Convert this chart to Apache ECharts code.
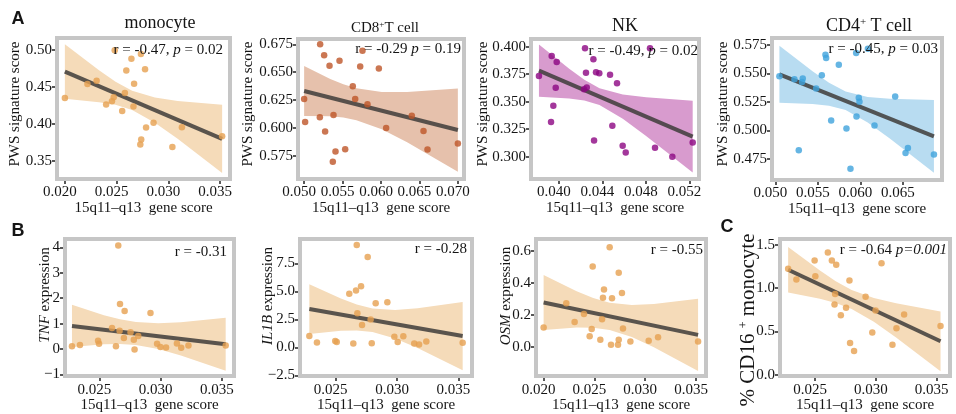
<!DOCTYPE html>
<html><head><meta charset="utf-8">
<script src="https://cdn.jsdelivr.net/npm/echarts@6/dist/echarts.min.js"></script>
<style>html,body{margin:0;padding:0;background:#fff}#chart{width:956px;height:414px}</style>
</head><body><div id="chart"></div><script>
// ---------- Panel A: monocyte ----------
const monoX = [0.02000,0.02218,0.02307,0.02399,0.02455,0.02472,0.02482,0.02554,0.02580,0.02594,0.02643,0.02663,0.02669,0.02729,0.02735,0.02738,0.02775,0.02785,0.02857,0.03039,0.03131,0.03520];
const monoY = [0.4351,0.4539,0.4584,0.4261,0.4306,0.4360,0.5000,0.4172,0.4418,0.4722,0.4884,0.4234,0.4543,0.3719,0.4946,0.3786,0.4740,0.3948,0.4015,0.3683,0.3952,0.3831];
const monoFitX = [0.0200,0.0352];
const monoFitY = [0.4709,0.3794];
const monoBandX = [0.0200,0.0233,0.0249,0.0265,0.0287,0.0309,0.0352];
const monoBandLo = [0.4339,0.4293,0.4258,0.4188,0.4014,0.3795,0.3330];
const monoBandHi = [0.5079,0.4727,0.4570,0.4448,0.4356,0.4311,0.4258];
const monoXLim = [0.01924,0.03596];
const monoYLim = [0.3250,0.5165];
const monoXTicks = [0.020,0.025,0.030,0.035];
const monoYTicks = [0.35,0.40,0.45,0.50];

// ---------- Panel A: CD8+ T cell ----------
const cd8X = [0.05000,0.05013,0.05208,0.05204,0.05260,0.05273,0.05330,0.05382,0.05373,0.05408,0.05460,0.05534,0.05633,0.05664,0.05729,0.05759,0.05824,0.05972,0.06067,0.06401,0.06553,0.06605,0.07000];
const cd8Y = [0.6259,0.6052,0.6750,0.6094,0.6651,0.5966,0.6558,0.6115,0.5696,0.5786,0.6603,0.5807,0.6373,0.6259,0.6552,0.6693,0.6211,0.6534,0.5999,0.6109,0.5972,0.5804,0.5858];
const cd8FitX = [0.0500,0.0700];
const cd8FitY = [0.6331,0.5980];
const cd8BandX = [0.0500,0.0534,0.0551,0.0568,0.0601,0.0634,0.0700];
const cd8BandLo = [0.6106,0.6103,0.6092,0.6068,0.5986,0.5871,0.5606];
const cd8BandHi = [0.6556,0.6439,0.6392,0.6356,0.6322,0.6321,0.6354];
const cd8XLim = [0.0492,0.0708];
const cd8YLim = [0.5540,0.6798];
const cd8XTicks = [0.050,0.055,0.060,0.065,0.070];
const cd8YTicks = [0.575,0.600,0.625,0.650,0.675];

// ---------- Panel A: NK ----------
const nkX = [0.03818,0.03935,0.03981,0.03972,0.03950,0.03929,0.04241,0.04250,0.04257,0.04232,0.04324,0.04318,0.04342,0.04372,0.04471,0.04492,0.04535,0.04587,0.04615,0.04838,0.04884,0.05043,0.05230];
const nkY = [0.3733,0.3915,0.3861,0.3627,0.3464,0.3315,0.3985,0.3764,0.3630,0.3612,0.3146,0.3885,0.3767,0.3758,0.3745,0.3282,0.3667,0.3100,0.3039,0.3985,0.3082,0.3000,0.3130];
const nkFitX = [0.03818,0.05230];
const nkFitY = [0.3782,0.3182];
const nkBandX = [0.03818,0.04096,0.04235,0.04374,0.04588,0.04802,0.05230];
const nkBandLo = [0.3544,0.3528,0.3511,0.3470,0.3345,0.3188,0.2855];
const nkBandHi = [0.4020,0.3800,0.3699,0.3622,0.3565,0.3540,0.3509];
const nkXLim = [0.03745,0.05288];
const nkYLim = [0.2797,0.4070];
const nkXTicks = [0.040,0.044,0.048,0.052];
const nkYTicks = [0.300,0.325,0.350,0.375,0.400];

// ---------- Panel A: CD4+ T cell ----------
const cd4X = [0.05047,0.05224,0.05314,0.05322,0.05275,0.05479,0.05546,0.05589,0.05597,0.05656,0.05746,0.05836,0.05883,0.05950,0.05954,0.05981,0.05989,0.06088,0.06166,0.06409,0.06531,0.06559,0.06865];
const cd4Y = [0.5475,0.5449,0.5425,0.5454,0.4825,0.5367,0.5483,0.5663,0.5634,0.5086,0.5576,0.5017,0.4663,0.5678,0.5121,0.5286,0.5251,0.5715,0.5043,0.5298,0.4802,0.4846,0.4788];
const cd4FitX = [0.05047,0.06865];
const cd4FitY = [0.5492,0.4947];
const cd4BandX = [0.05047,0.05437,0.05631,0.05826,0.06086,0.06346,0.06865];
const cd4BandLo = [0.5243,0.5232,0.5217,0.5178,0.5069,0.4929,0.4628];
const cd4BandHi = [0.5742,0.5518,0.5417,0.5340,0.5293,0.5277,0.5266];
const cd4XLim = [0.04960,0.06960];
const cd4YLim = [0.4565,0.5810];
const cd4XTicks = [0.050,0.055,0.060,0.065];
const cd4YTicks = [0.475,0.500,0.525,0.550,0.575];

// ---------- Panel B: TNF ----------
const tnfX = [0.02277,0.02342,0.02490,0.02498,0.02604,0.02636,0.02655,0.02666,0.02669,0.02701,0.02707,0.02755,0.02782,0.02788,0.02818,0.02918,0.02972,0.02999,0.03045,0.03134,0.03169,0.03228,0.03532];
const tnfY = [0.11,0.16,0.33,0.21,0.83,0.11,4.07,0.72,1.77,0.43,1.50,0.66,0.37,-0.02,0.51,1.42,0.21,0.08,0.06,0.22,0.05,0.14,0.14];
const tnfFitX = [0.02277,0.03532];
const tnfFitY = [0.91,0.19];
const tnfBandX = [0.02277,0.02538,0.02669,0.02799,0.02982,0.03166,0.03532];
const tnfBandLo = [0.08,0.191,0.202,0.160,-0.002,-0.250,-0.85];
const tnfBandHi = [1.74,1.329,1.168,1.060,1.012,1.050,1.23];
const tnfXLim = [0.0222,0.0360];
const tnfYLim = [-1.065,4.33];
const tnfXTicks = [0.025,0.030,0.035];
const tnfYTicks = [-1,0,1,2,3,4];

// ---------- Panel B: IL1B ----------
const il1bX = [0.02286,0.02348,0.02497,0.02509,0.02611,0.02644,0.02666,0.02672,0.02677,0.02707,0.02715,0.02761,0.02785,0.02794,0.02826,0.02921,0.02978,0.03005,0.03051,0.03140,0.03179,0.03238,0.03534];
const il1bY = [1.01,0.43,0.58,0.49,4.78,0.35,5.07,9.13,3.04,5.45,2.00,8.06,2.49,0.38,3.94,4.03,0.96,0.49,0.99,0.35,0.26,0.52,0.41];
const il1bFitX = [0.02286,0.03534];
const il1bFitY = [3.42,1.01];
const il1bBandX = [0.02286,0.02543,0.02672,0.0280,0.02984,0.03167,0.03534];
const il1bBandLo = [1.20,1.490,1.518,1.377,0.804,-0.052,-2.03];
const il1bBandHi = [5.64,4.358,3.832,3.477,3.340,3.490,4.05];
const il1bXLim = [0.0221,0.0361];
const il1bYLim = [-2.56,9.67];
const il1bXTicks = [0.025,0.030,0.035];
const il1bYTicks = [-2.5,0,2.5,5,7.5];

// ---------- Panel B: OSM ----------
const osmX = [0.02000,0.02223,0.02305,0.02397,0.02453,0.02473,0.02483,0.02558,0.02575,0.02584,0.02594,0.02650,0.02663,0.02673,0.02732,0.02739,0.02739,0.02771,0.02781,0.02854,0.03034,0.03126,0.03520];
const osmY = [0.121,0.273,0.156,0.206,0.067,0.111,0.501,0.044,0.172,0.307,0.358,0.622,0.014,0.303,0.014,0.463,0.044,0.337,0.115,0.034,0.038,0.061,0.034];
const osmFitX = [0.0200,0.0352];
const osmFitY = [0.277,0.075];
const osmBandX = [0.0200,0.02325,0.02488,0.0265,0.02868,0.03085,0.0352];
const osmBandLo = [0.105,0.1206,0.1192,0.1056,0.0619,-0.0017,-0.150];
const osmBandHi = [0.449,0.347,0.305,0.2756,0.2613,0.2673,0.300];
const osmXLim = [0.01925,0.03598];
const osmYLim = [-0.182,0.673];
const osmXTicks = [0.020,0.025,0.030,0.035];
const osmYTicks = [0,0.2,0.4,0.6];

// ---------- Panel C: % CD16+ monocyte ----------
const cd16X = [0.02277,0.02345,0.02495,0.02501,0.02604,0.02637,0.02659,0.02664,0.02673,0.02711,0.02754,0.02782,0.02787,0.02820,0.02915,0.02970,0.02997,0.03046,0.03136,0.03169,0.03232,0.03532];
const cd16Y = [1.222,1.099,1.316,1.136,1.410,1.316,0.810,0.930,1.267,0.686,0.772,1.087,0.367,0.274,0.900,0.487,0.742,1.286,0.345,0.536,0.694,0.562];
const cd16FitX = [0.02277,0.03532];
const cd16FitY = [1.211,0.386];
const cd16BandX = [0.02277,0.02539,0.02669,0.0280,0.02983,0.03166,0.03532];
const cd16BandLo = [0.949,0.877,0.828,0.757,0.610,0.430,0.042];
const cd16BandHi = [1.473,1.201,1.078,0.977,0.884,0.824,0.730];
const cd16XLim = [0.0221,0.0361];
const cd16YLim = [-0.015,1.565];
const cd16XTicks = [0.025,0.030,0.035];
const cd16YTicks = [0,0.5,1.0,1.5];

// ---------- Styling / layout ----------
const SERIF = "'Liberation Serif','Times New Roman',serif";
const SANS = "'Liberation Sans',Arial,sans-serif";
const TXT = '#151515';
const ORANGE = '#E6A050', ORANGE_BAND = '#F5DBB9';
const RUST = '#BE5528', RUST_BAND = '#E6C1AC';
const PURPLE = '#8C0582', PURPLE_BAND = '#D89BCE';
const BLUE = '#3FA2DC', BLUE_BAND = '#B8DCF1';

const panels = [
  {box:[57,38,230,179], row:1, x:monoX, y:monoY, fx:monoFitX, fy:monoFitY, bx:monoBandX, lo:monoBandLo, hi:monoBandHi, xl:monoXLim, yl:monoYLim, xt:monoXTicks, yt:monoYTicks, xd:3, yd:2, pt:ORANGE, band:ORANGE_BAND},
  {box:[298,39,464,179], row:1, x:cd8X, y:cd8Y, fx:cd8FitX, fy:cd8FitY, bx:cd8BandX, lo:cd8BandLo, hi:cd8BandHi, xl:cd8XLim, yl:cd8YLim, xt:cd8XTicks, yt:cd8YTicks, xd:3, yd:3, pt:RUST, band:RUST_BAND},
  {box:[531,39,699,179], row:1, x:nkX, y:nkY, fx:nkFitX, fy:nkFitY, bx:nkBandX, lo:nkBandLo, hi:nkBandHi, xl:nkXLim, yl:nkYLim, xt:nkXTicks, yt:nkYTicks, xd:3, yd:3, pt:PURPLE, band:PURPLE_BAND},
  {box:[772,38,942,180], row:1, x:cd4X, y:cd4Y, fx:cd4FitX, fy:cd4FitY, bx:cd4BandX, lo:cd4BandLo, hi:cd4BandHi, xl:cd4XLim, yl:cd4YLim, xt:cd4XTicks, yt:cd4YTicks, xd:3, yd:3, pt:BLUE, band:BLUE_BAND},
  {box:[65,239,234,380], row:2, x:tnfX, y:tnfY, fx:tnfFitX, fy:tnfFitY, bx:tnfBandX, lo:tnfBandLo, hi:tnfBandHi, xl:tnfXLim, yl:tnfYLim, xt:tnfXTicks, yt:tnfYTicks, xd:3, yd:0, pt:ORANGE, band:ORANGE_BAND},
  {box:[300,239,472,380], row:2, x:il1bX, y:il1bY, fx:il1bFitX, fy:il1bFitY, bx:il1bBandX, lo:il1bBandLo, hi:il1bBandHi, xl:il1bXLim, yl:il1bYLim, xt:il1bXTicks, yt:il1bYTicks, xd:3, yd:1, pt:ORANGE, band:ORANGE_BAND},
  {box:[536,239,706,380], row:2, x:osmX, y:osmY, fx:osmFitX, fy:osmFitY, bx:osmBandX, lo:osmBandLo, hi:osmBandHi, xl:osmXLim, yl:osmYLim, xt:osmXTicks, yt:osmYTicks, xd:3, yd:1, pt:ORANGE, band:ORANGE_BAND},
  {box:[780,239,950,379], row:2, x:cd16X, y:cd16Y, fx:cd16FitX, fy:cd16FitY, bx:cd16BandX, lo:cd16BandLo, hi:cd16BandHi, xl:cd16XLim, yl:cd16YLim, xt:cd16XTicks, yt:cd16YTicks, xd:3, yd:1, pt:ORANGE, band:ORANGE_BAND}
];

function fmt(dec) {
  return function (v) {
    const s = Math.abs(v).toFixed(dec);
    return (v < -1e-9 ? '\u2212' : '') + s;
  };
}

const grids = [], xAxes = [], yAxes = [], series = [];
panels.forEach(function (p, i) {
  const tickFont = 15;
  grids.push({
    left: p.box[0], top: p.box[1], width: p.box[2] - p.box[0], height: p.box[3] - p.box[1],
    show: true, borderColor: '#c6c6c6', borderWidth: 4, backgroundColor: 'transparent', z: 10
  });
  xAxes.push({
    gridIndex: i, type: 'value', min: p.xl[0], max: p.xl[1], position: 'bottom',
    name: '15q11\u2013q13  gene score', nameLocation: 'middle', nameGap: 20,
    nameTextStyle: {fontFamily: SERIF, fontSize: 15, color: TXT},
    axisLine: {show: false, onZero: false}, splitLine: {show: false},
    axisTick: {show: true, customValues: p.xt, length: 5, lineStyle: {color: '#222', width: 1.5}},
    axisLabel: {customValues: p.xt, formatter: fmt(p.xd), fontFamily: SERIF, fontSize: tickFont,
      color: TXT, margin: 6, padding: [0, 10, 0, 0], hideOverlap: false}
  });
  yAxes.push({
    gridIndex: i, type: 'value', min: p.yl[0], max: p.yl[1], position: 'left',
    axisLine: {show: false, onZero: false}, splitLine: {show: false},
    axisTick: {show: true, customValues: p.yt, length: 5, lineStyle: {color: '#222', width: 1.5}},
    axisLabel: {customValues: p.yt, formatter: fmt(p.yd), fontFamily: SERIF, fontSize: tickFont,
      color: TXT, margin: 5}
  });
  // confidence band
  series.push({
    type: 'custom', xAxisIndex: i, yAxisIndex: i, silent: true, z: 1,
    data: [[p.bx[0], p.lo[0]]],
    renderItem: function (params, api) {
      const up = p.bx.map(function (x, j) { return api.coord([x, p.hi[j]]); });
      const dn = p.bx.map(function (x, j) { return api.coord([x, p.lo[j]]); }).reverse();
      return {type: 'polygon', shape: {points: up.concat(dn)}, style: {fill: p.band}};
    }
  });
  // regression line
  series.push({
    type: 'line', xAxisIndex: i, yAxisIndex: i, silent: true, z: 3,
    data: p.fx.map(function (x, j) { return [x, p.fy[j]]; }),
    symbol: 'none', lineStyle: {color: 'rgba(62,60,57,0.85)', width: 4}
  });
  // points
  series.push({
    type: 'scatter', xAxisIndex: i, yAxisIndex: i, silent: true, z: 4,
    data: p.x.map(function (x, j) { return [x, p.y[j]]; }),
    symbolSize: 6.5, itemStyle: {color: p.pt}
  });
});

function text(x, y, str, o) {
  o = o || {};
  return {
    type: 'text', x: x, y: y, z: 100, rotation: o.rot || 0, silent: true,
    style: {
      text: str, fill: TXT, fontFamily: o.family || SERIF, fontSize: o.size || 15,
      fontWeight: o.weight || 'normal', align: o.align || 'center', verticalAlign: 'middle',
      rich: o.rich
    }
  };
}
function richSet(size, supSize) {
  return {
    a: {fontFamily: SERIF, fontSize: size, fill: TXT},
    i: {fontFamily: SERIF, fontSize: size, fontStyle: 'italic', fill: TXT},
    s: {fontFamily: SERIF, fontSize: supSize || Math.round(size * 0.6), fill: TXT, verticalAlign: 'top'}
  };
}
const R15 = richSet(15);
const ROT = Math.PI / 2;

const graphic = [
  // panel letters
  text(18, 19, 'A', {family: SANS, size: 18, weight: 'bold'}),
  text(18, 231, 'B', {family: SANS, size: 18, weight: 'bold'}),
  text(727, 227, 'C', {family: SANS, size: 18, weight: 'bold'}),
  // titles
  text(160, 23.5, '{a|monocyte}', {rich: richSet(18)}),
  text(385, 28, '{a|CD8}{s|+}{a|T cell}', {rich: richSet(15, 9)}),
  text(625, 26, '{a|NK}', {rich: richSet(18)}),
  text(869, 26, '{a|CD4}{s|+}{a| T cell}', {rich: richSet(18, 11)}),
  // y-axis names
  text(15, 104, '{a|PWS signature score}', {rot: ROT, rich: R15}),
  text(248, 104, '{a|PWS signature score}', {rot: ROT, rich: R15}),
  text(483, 104, '{a|PWS signature score}', {rot: ROT, rich: R15}),
  text(723, 104, '{a|PWS signature score}', {rot: ROT, rich: R15}),
  text(45, 295, '{i|TNF}{a| expression}', {rot: ROT, rich: R15}),
  text(268, 296, '{i|IL1B}{a| expression}', {rot: ROT, rich: R15}),
  text(506, 296, '{i|OSM}{a| expression}', {rot: ROT, rich: R15}),
  text(748, 320, '{a|% CD16 }{s|+}{a| monocyte}', {rot: ROT, rich: richSet(21, 12)}),
  // statistics
  text(223, 50, '{a|r = -0.47, }{i|p}{a| = 0.02}', {align: 'right', rich: R15}),
  text(461, 49, '{a|r = -0.29 }{i|p}{a| = 0.19}', {align: 'right', rich: R15}),
  text(698, 51, '{a|r = -0.49, }{i|p}{a| = 0.02}', {align: 'right', rich: R15}),
  text(938, 49, '{a|r = -0.45, }{i|p}{a| = 0.03}', {align: 'right', rich: R15}),
  text(227, 252, '{a|r = -0.31}', {align: 'right', rich: R15}),
  text(467, 249, '{a|r = -0.28}', {align: 'right', rich: R15}),
  text(703, 250, '{a|r = -0.55}', {align: 'right', rich: R15}),
  text(947, 250, '{a|r = -0.64 }{i|p=0.001}', {align: 'right', rich: R15})
];

const chart = echarts.init(document.getElementById('chart'), null, {renderer: 'canvas'});
chart.setOption({
  animation: false,
  backgroundColor: '#ffffff',
  grid: grids, xAxis: xAxes, yAxis: yAxes, series: series, graphic: graphic
});
</script></body></html>
